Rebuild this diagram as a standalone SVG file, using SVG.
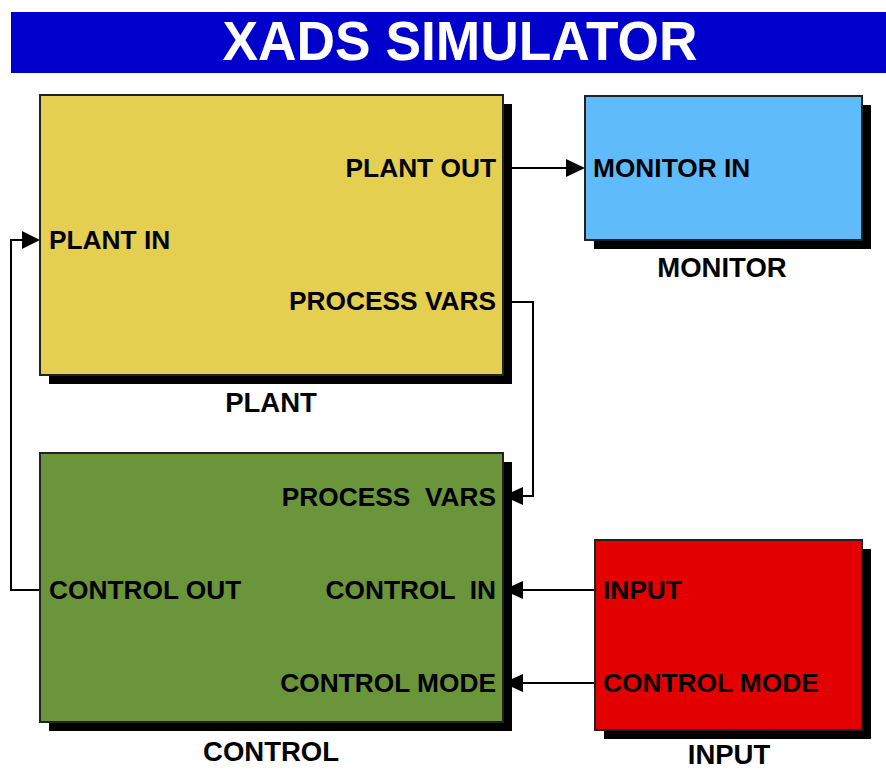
<svg xmlns="http://www.w3.org/2000/svg" width="886" height="771" viewBox="0 0 886 771">
<style>
.t{font-family:"Liberation Sans",Arial,sans-serif;font-weight:bold;font-size:26.3px;fill:#000;white-space:pre}
.lbl{font-family:"Liberation Sans",Arial,sans-serif;font-weight:bold;font-size:27.5px;fill:#000;text-anchor:middle}
.end{text-anchor:end}
.box{stroke:#222;stroke-width:2}
.sh{fill:#000}
.ln{fill:none;stroke:#000;stroke-width:2}
.ah{fill:#000}
</style>
<rect x="11" y="12" width="875" height="61" fill="#0000CC"/>
<text x="460" y="60" font-family="'Liberation Sans',Arial,sans-serif" font-weight="bold" font-size="56" fill="#fff" text-anchor="middle" textLength="475" lengthAdjust="spacingAndGlyphs">XADS SIMULATOR</text>
<g id="connectors">
<path class="ln" d="M512,168 H567"/>
<polygon class="ah" points="566,159 585,168 566,177"/>
<path class="ln" d="M40,590 H11 V240 H23"/>
<polygon class="ah" points="22,231 40,240 22,249"/>
<path class="ln" d="M512,302 H533 V496 H522"/>
<polygon class="ah" points="523,487 503,496 523,505"/>
<path class="ln" d="M595,590 H522"/>
<polygon class="ah" points="523,581 503,590 523,599"/>
<path class="ln" d="M595,683 H522"/>
<polygon class="ah" points="523,674 503,683 523,692"/>
</g>
<g id="plant">
<rect class="sh" x="49" y="104" width="463" height="280"/>
<rect class="box" x="40" y="95" width="463" height="280" fill="#E5CF51"/>
<text class="t end" x="496" y="177">PLANT OUT</text>
<text class="t" x="49" y="249">PLANT IN</text>
<text class="t end" x="496" y="310">PROCESS VARS</text>
<text class="lbl" x="271" y="412">PLANT</text>
</g>
<g id="monitor">
<rect class="sh" x="594" y="105" width="277" height="144"/>
<rect class="box" x="585" y="96" width="277" height="144" fill="#60BBFA"/>
<text class="t" x="593" y="177">MONITOR IN</text>
<text class="lbl" x="722" y="277">MONITOR</text>
</g>
<g id="control">
<rect class="sh" x="49" y="462" width="463" height="269"/>
<rect class="box" x="40" y="453" width="463" height="269" fill="#6B953B"/>
<text class="t end" x="496" y="506">PROCESS  VARS</text>
<text class="t" x="49" y="599">CONTROL OUT</text>
<text class="t end" x="496" y="599">CONTROL  IN</text>
<text class="t end" x="496" y="692">CONTROL MODE</text>
<text class="lbl" x="271" y="761">CONTROL</text>
</g>
<g id="input">
<rect class="sh" x="604" y="549" width="267" height="190"/>
<rect class="box" x="595" y="540" width="267" height="190" fill="#E30000"/>
<text class="t" x="603" y="599">INPUT</text>
<text class="t" x="603" y="692">CONTROL MODE</text>
<text class="lbl" x="729" y="764">INPUT</text>
</g>
</svg>
